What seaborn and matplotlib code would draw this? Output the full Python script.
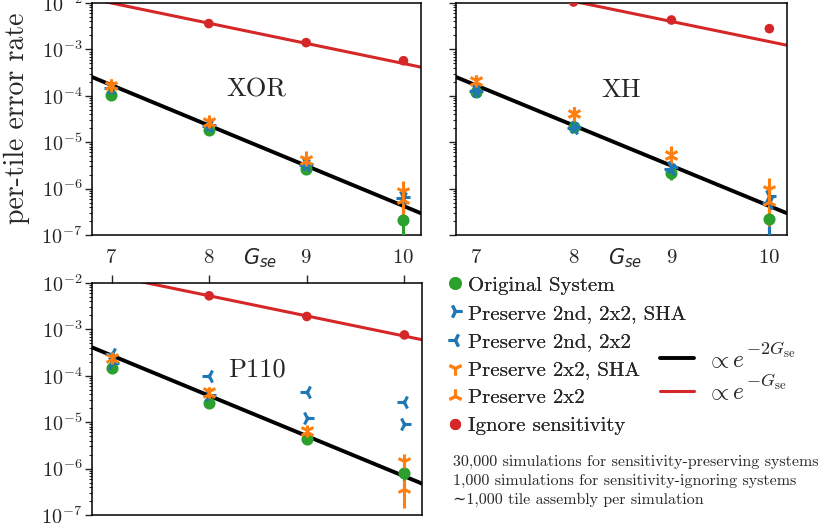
import numpy as np
import matplotlib
matplotlib.use("Agg")
import matplotlib.pyplot as plt
import seaborn as sns
from matplotlib.lines import Line2D
from matplotlib.ticker import LogLocator, NullFormatter
from matplotlib.text import Annotation

# ---------------- data ----------------
G_SE = [7, 8, 9, 10]
X_TICKS = [7, 8, 9, 10]

# XOR panel
XOR_original = [1.05e-4, 1.8e-5, 2.7e-6, 2.1e-7]
XOR_original_err = [0.08, 0.12, 0.25, 0.95]
XOR_p2nd_sha = [1.45e-4, 2.3e-5, 3.4e-6, 6.5e-7]
XOR_p2nd_sha_err = [0.1, 0.2, 0.3, 0.6]
XOR_p2nd = [1.5e-4, 2.2e-5, 3.3e-6, 6.2e-7]
XOR_p2nd_err = [0.1, 0.2, 0.3, 0.6]
XOR_p2x2_sha = [1.75e-4, 2.8e-5, 4.4e-6, 9.0e-7]
XOR_p2x2_sha_err = [0.3, 0.4, 0.45, 0.6]
XOR_p2x2 = [1.6e-4, 2.6e-5, 4.0e-6, 5.8e-7]
XOR_p2x2_err = [0.3, 0.4, 0.45, 0.6]
XOR_ignore = [np.nan, 3.6e-3, 1.4e-3, 5.7e-4]
XOR_fit2_at7 = 1.7e-4      # ∝ e^{-2 G_se}, value at G_se = 7
XOR_fit1_at9 = 1.35e-3     # ∝ e^{-G_se},  value at G_se = 9

# XH panel
XH_original = [1.2e-4, 2.1e-5, 2.2e-6, 2.2e-7]
XH_original_err = [0.08, 0.1, 0.3, 0.95]
XH_p2nd_sha = [1.25e-4, 2.1e-5, 2.9e-6, 6.8e-7]
XH_p2nd_sha_err = [0.1, 0.15, 0.35, 0.9]
XH_p2nd = [1.3e-4, 2.0e-5, 2.7e-6, 5.0e-7]
XH_p2nd_err = [0.1, 0.15, 0.35, 0.9]
XH_p2x2_sha = [2.2e-4, 4.2e-5, 5.5e-6, 1.0e-6]
XH_p2x2_sha_err = [0.3, 0.4, 0.5, 0.7]
XH_p2x2 = [2.0e-4, 4.0e-5, 5.0e-6, 5.2e-7]
XH_p2x2_err = [0.3, 0.4, 0.5, 0.7]
XH_ignore = [np.nan, 1.05e-2, 4.3e-3, 2.8e-3]
XH_fit2_at7 = 1.7e-4
XH_fit1_at9 = 4.0e-3

# P110 panel
P110_original = [1.45e-4, 2.6e-5, 4.4e-6, 8.0e-7]
P110_original_err = [0.08, 0.12, 0.15, 0.5]
P110_p2nd_sha = [1.85e-4, 3.8e-5, 1.25e-5, 9.2e-6]
P110_p2nd_sha_err = [0.08, 0.1, 0.1, 0.1]
P110_p2nd = [3.0e-4, 1.0e-4, 4.5e-5, 2.75e-5]
P110_p2nd_err = [0.08, 0.1, 0.1, 0.1]
P110_p2x2_sha = [2.6e-4, 4.8e-5, 6.8e-6, 1.45e-6]
P110_p2x2_sha_err = [0.15, 0.2, 0.2, 0.4]
P110_p2x2 = [2.3e-4, 4.0e-5, 6.2e-6, 3.6e-7]
P110_p2x2_err = [0.15, 0.2, 0.2, 0.6]
P110_ignore = [np.nan, 5.3e-3, 1.9e-3, 7.6e-4]
P110_fit2_at7 = 2.75e-4
P110_fit1_at9 = 1.95e-3

SERIES_LABELS = ["Original System", "Preserve 2nd, 2x2, SHA", "Preserve 2nd, 2x2",
                 "Preserve 2x2, SHA", "Preserve 2x2", "Ignore sensitivity"]
FIT_LABELS = [r"$\propto e$", r"$\propto e$"]
FIT_EXPONENTS = [r"$-2G_{\mathrm{se}}$", r"$-G_{\mathrm{se}}$"]
NOTE = ("30,000 simulations for sensitivity-preserving systems\n"
        "1,000 simulations for sensitivity-ignoring systems\n"
        "\u223c1,000 tile assembly per simulation")

# ---------------- style ----------------
sns.set_theme(style="ticks")
plt.rcParams["font.family"] = ["cmr10", "DejaVu Serif"]
plt.rcParams["mathtext.fontset"] = "cm"
plt.rcParams["axes.formatter.use_mathtext"] = True
plt.rcParams["axes.linewidth"] = 1.1
plt.rcParams["axes.edgecolor"] = "black"

pal = sns.color_palette("tab10")
BLUE, ORANGE, GREEN, RED = pal[0], pal[1], pal[2], pal[3]

# (key, marker, color, markersize)
SERIES_STYLE = [
    ("original", "o", GREEN, 6.5),
    ("p2nd_sha", "4", BLUE, 10),
    ("p2nd", "3", BLUE, 10),
    ("p2x2_sha", "1", ORANGE, 10),
    ("p2x2", "2", ORANGE, 10),
]

panels = {
    "XOR": dict(original=(XOR_original, XOR_original_err), p2nd_sha=(XOR_p2nd_sha, XOR_p2nd_sha_err),
                p2nd=(XOR_p2nd, XOR_p2nd_err), p2x2_sha=(XOR_p2x2_sha, XOR_p2x2_sha_err),
                p2x2=(XOR_p2x2, XOR_p2x2_err), ignore=XOR_ignore,
                fit2=XOR_fit2_at7, fit1=XOR_fit1_at9),
    "XH": dict(original=(XH_original, XH_original_err), p2nd_sha=(XH_p2nd_sha, XH_p2nd_sha_err),
               p2nd=(XH_p2nd, XH_p2nd_err), p2x2_sha=(XH_p2x2_sha, XH_p2x2_sha_err),
               p2x2=(XH_p2x2, XH_p2x2_err), ignore=XH_ignore,
               fit2=XH_fit2_at7, fit1=XH_fit1_at9),
    "P110": dict(original=(P110_original, P110_original_err), p2nd_sha=(P110_p2nd_sha, P110_p2nd_sha_err),
                 p2nd=(P110_p2nd, P110_p2nd_err), p2x2_sha=(P110_p2x2_sha, P110_p2x2_sha_err),
                 p2x2=(P110_p2x2, P110_p2x2_err), ignore=P110_ignore,
                 fit2=P110_fit2_at7, fit1=P110_fit1_at9),
}

fig = plt.figure(figsize=(8.22, 5.24), dpi=100)
W, H = 822, 524


def add_ax(left, top, right, bottom):
    return fig.add_axes([left / W, 1 - bottom / H, (right - left) / W, (bottom - top) / H])


ax_xor = add_ax(92, 3, 421, 235)
ax_xh = add_ax(456, 3, 787, 235)
ax_p110 = add_ax(92, 283, 422, 515)

XLIM = (6.8, 10.18)


def draw(ax, name, d, ylabels=True, bottom_labels=True):
    ax.set_yscale("log")
    xs = np.linspace(XLIM[0], XLIM[1], 60)
    fit1 = d["fit1"] * np.exp(-(xs - 9))
    fit2 = d["fit2"] * np.exp(-2 * (xs - 7))
    sns.lineplot(x=xs, y=fit1, color=RED, lw=2.2, ax=ax, zorder=2)
    sns.lineplot(x=xs, y=fit2, color="black", lw=2.8, ax=ax, zorder=2)
    for key, marker, color, ms in SERIES_STYLE:
        y, rel = d[key]
        y = np.asarray(y, float)
        rel = np.asarray(rel, float)
        lo = y * np.minimum(rel, 0.999)
        hi = y * rel
        ax.errorbar(G_SE, y, yerr=[lo, hi], fmt=marker, color=color, ms=ms, mew=2.2,
                    elinewidth=2.2, capsize=0, ls="none", zorder=3)
    sns.scatterplot(x=G_SE, y=d["ignore"], color=RED, s=48, edgecolor="none",
                    ax=ax, zorder=4, legend=False)
    ax.set_xlim(*XLIM)
    ax.set_ylim(1e-7, 1e-2)
    ax.set_xticks(X_TICKS)
    ax.yaxis.set_major_locator(LogLocator(base=10, numticks=12))
    ax.yaxis.set_minor_locator(LogLocator(base=10, subs=np.arange(2, 10), numticks=12))
    ax.yaxis.set_minor_formatter(NullFormatter())
    ax.set_xlabel("")
    ax.set_ylabel("")
    ax.tick_params(axis="y", which="major", direction="out", length=5, width=1.0,
                   labelsize=14.5, pad=2, labelleft=ylabels)
    ax.tick_params(axis="y", which="minor", direction="out", length=2.5, width=0.8)
    if bottom_labels:
        ax.tick_params(axis="x", length=0, pad=10, labelsize=15)
        ax.text(0.51, -0.125, r"$G_{se}$", transform=ax.transAxes, ha="center",
                va="baseline", fontsize=15, math_fontfamily="dejavusans")
    else:
        ax.xaxis.tick_top()
        ax.tick_params(axis="x", which="both", direction="out", length=6, width=1.0,
                       labeltop=False, labelbottom=False)
    ax.text(0.5, 0.625, name, transform=ax.transAxes, ha="center", va="center",
            fontsize=19)
    for sp in ax.spines.values():
        sp.set_color("black")


draw(ax_xor, "XOR", panels["XOR"], ylabels=True, bottom_labels=True)
draw(ax_xh, "XH", panels["XH"], ylabels=False, bottom_labels=True)
draw(ax_p110, "P110", panels["P110"], ylabels=True, bottom_labels=False)

fig.text(17 / W, 1 - 118 / H, "per-tile error rate", rotation=90, ha="center",
         va="center", fontsize=20)

# legends
marker_handles = []
for (key, marker, color, ms) in SERIES_STYLE:
    marker_handles.append(Line2D([], [], ls="none", marker=marker, color=color,
                                 ms=(7 if marker == "o" else 10), mew=2.2))
marker_handles.append(Line2D([], [], ls="none", marker="o", color=RED, ms=7))
leg1 = fig.legend(marker_handles, SERIES_LABELS, loc="upper left",
                  bbox_to_anchor=(447 / W, 1 - 276 / H), frameon=False, fontsize=15,
                  handlelength=0.8, handletextpad=0.2, labelspacing=0.46,
                  borderpad=0, borderaxespad=0)
line_handles = [Line2D([], [], color="black", lw=2.8), Line2D([], [], color=RED, lw=2.2)]
leg2 = fig.legend(line_handles, FIT_LABELS, loc="center left",
                  bbox_to_anchor=(660 / W, 1 - 377 / H), frameon=False, fontsize=17,
                  handlelength=1.45, handletextpad=0.5, labelspacing=0.45,
                  borderpad=0, borderaxespad=0)
fig.add_artist(leg1)

# exponents of the fit labels, set at script size next to the legend text
for txt, expo in zip(leg2.get_texts(), FIT_EXPONENTS):
    ann = Annotation(expo, xy=(1.0, 0.55), xycoords=txt, xytext=(0.5, 0),
                     textcoords="offset points", ha="left", va="bottom",
                     fontsize=13, annotation_clip=False)
    ann.set_zorder(10)
    fig.add_artist(ann)

fig.text(453 / W, 1 - 455 / H, NOTE, ha="left", va="top", fontsize=11.5,
         linespacing=1.45)

fig.savefig("out.png", dpi=100)
